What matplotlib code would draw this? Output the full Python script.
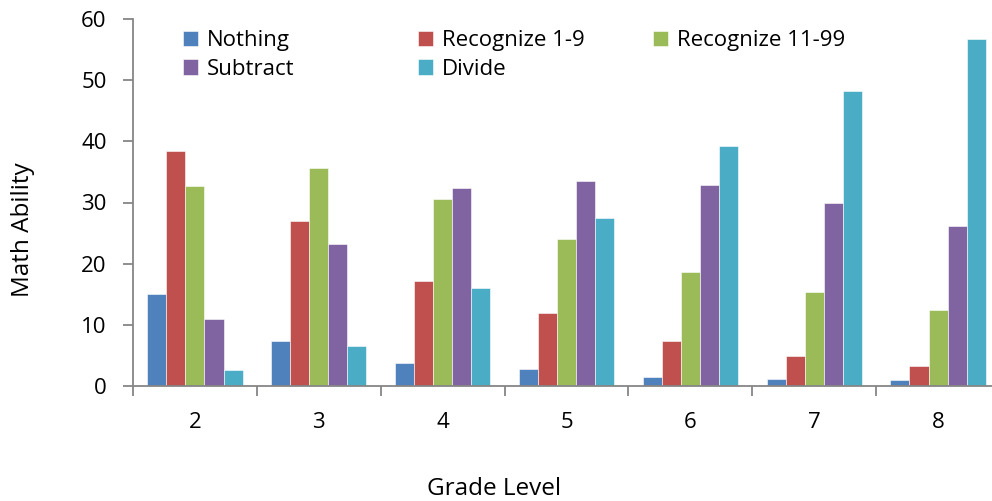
import matplotlib
matplotlib.use("Agg")
import matplotlib.pyplot as plt
import numpy as np

plt.rcParams["font.family"] = ["Open Sans", "DejaVu Sans"]

grades = ["2", "3", "4", "5", "6", "7", "8"]
series = ["Nothing", "Recognize 1-9", "Recognize 11-99", "Subtract", "Divide"]
nothing = [15.0, 7.4, 3.7, 2.8, 1.5, 1.15, 1.0]
recognize_1_9 = [38.5, 26.9, 17.1, 11.9, 7.3, 4.9, 3.3]
recognize_11_99 = [32.7, 35.6, 30.5, 24.0, 18.7, 15.3, 12.4]
subtract = [10.9, 23.2, 32.3, 33.5, 32.8, 29.9, 26.2]
divide = [2.6, 6.5, 16.0, 27.5, 39.3, 48.3, 56.8]
colors = ["#4F81BD", "#C0504D", "#9BBB59", "#8064A2", "#4BACC6"]

values = [nothing, recognize_1_9, recognize_11_99, subtract, divide]
FS = 16
TITLE_FS = 17.5

fig = plt.figure(figsize=(9.92, 5.01), dpi=100)
ax = fig.add_axes([133 / 992, 1 - 386 / 501, (1000 - 133) / 992, (386 - 19) / 501])

x = np.arange(len(grades))
w = 1 / 6.5
bars = []
for i, (name, vals, c) in enumerate(zip(series, values, colors)):
    bars.append(ax.bar(x + (i - 2) * w, vals, width=w, color=c, label=name,
                       edgecolor="white", linewidth=0.4))

ax.set_xlim(-0.5, len(grades) - 0.5)
ax.set_ylim(0, 60)
ax.set_yticks(range(0, 61, 10))
ax.set_xticks(x)
ax.set_xticklabels(grades)
ax.set_xticks(np.arange(len(grades) + 1) - 0.5, minor=True)
ax.tick_params(axis="x", which="major", length=0, pad=19, labelsize=FS)
ax.tick_params(axis="x", which="minor", length=7, width=1.3, color="#868686")
ax.tick_params(axis="y", length=7, width=1.3, color="#868686", pad=12, labelsize=FS)

for s in ["top", "right"]:
    ax.spines[s].set_visible(False)
for s in ["left", "bottom"]:
    ax.spines[s].set_color("#868686")
    ax.spines[s].set_linewidth(1.3)

fig.text(23 / 992, 1 - 230 / 501, "Math Ability", rotation=90,
         ha="center", va="center", fontsize=TITLE_FS)
fig.text(494 / 992, 1 - 489 / 501, "Grade Level", ha="center", va="center",
         fontsize=TITLE_FS)

# legend laid out row-wise: three columns anchored at fixed x positions
columns = [[0, 3], [1, 4], [2]]
col_x = [183, 418, 653]
for idx, cx in zip(columns, col_x):
    fig.legend([bars[i] for i in idx], [series[i] for i in idx],
               loc="upper left", bbox_to_anchor=(cx / 992, 1 - 30 / 501),
               frameon=False, fontsize=FS, handlelength=0.68,
               handleheight=0.68, handletextpad=0.4, labelspacing=0.35,
               borderaxespad=0, borderpad=0)

fig.savefig("out.png", dpi=100)
